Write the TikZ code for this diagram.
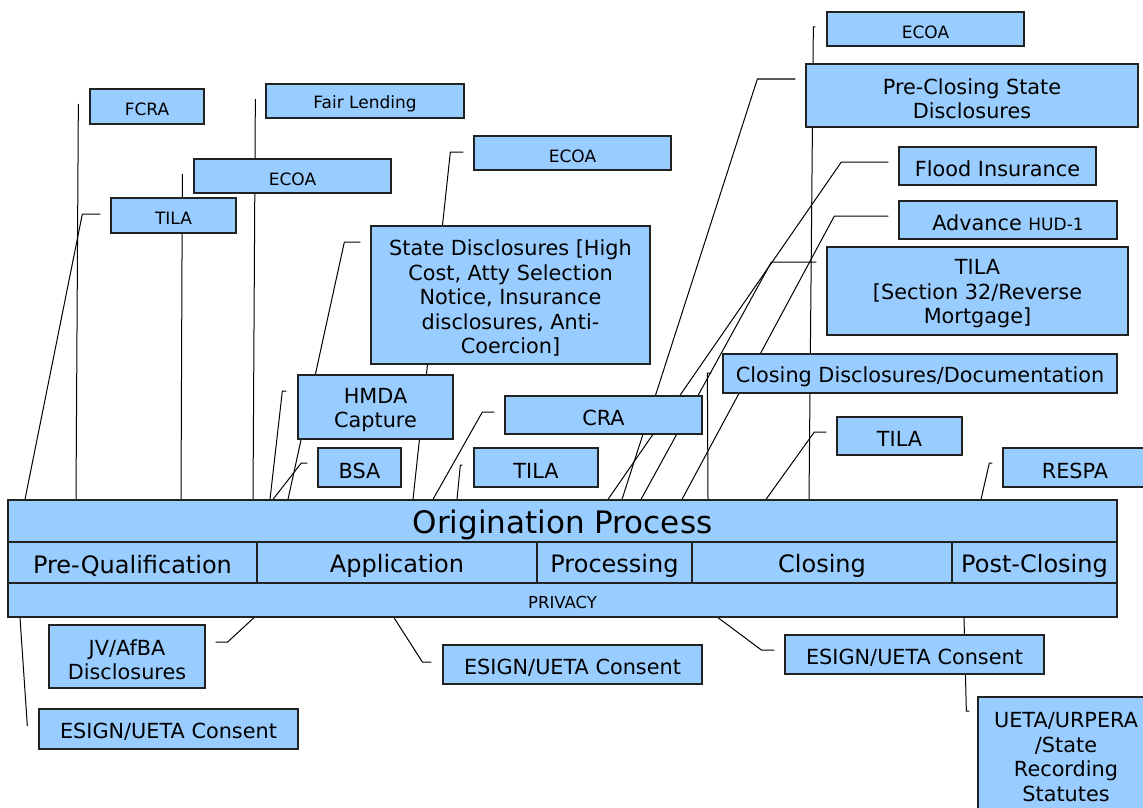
\documentclass[tikz,border=0pt]{standalone}
\usepackage{fontspec}
\setmainfont{DejaVu Sans}
\usetikzlibrary{backgrounds}
\definecolor{boxfill}{HTML}{99CCFF}
\definecolor{boxline}{HTML}{222222}
\begin{document}
\begin{tikzpicture}[x=1pt,y=-1pt,
  box/.style={draw=boxline, fill=boxfill, line width=1.3pt, inner sep=0pt},
  txt/.style={inner sep=0pt, align=center, font=\fontsize{20.8}{24.5}\selectfont},
  smalltxt/.style={txt, font=\fontsize{17}{20}\selectfont},
  phasetxt/.style={txt, font=\fontsize{24}{28}\selectfont},
  link/.style={draw=black, line width=1pt}]
\useasboundingbox (0,0) rectangle (1143,808);
\clip (0,0) rectangle (1143,808);

% ---------- label boxes ----------
\path
  (147,106.5)   node[box, minimum width=114pt, minimum height=35pt] (fcra) {}
  (365,101)     node[box, minimum width=198pt, minimum height=34pt] (fair) {}
  (292.5,176)   node[box, minimum width=197pt, minimum height=34pt] (ecoaA) {}
  (173.5,215.5) node[box, minimum width=125pt, minimum height=35pt] (tilaA) {}
  (572.5,153)   node[box, minimum width=197pt, minimum height=34pt] (ecoaB) {}
  (510.5,295)   node[box, minimum width=279pt, minimum height=138pt] (state) {}
  (375.5,407)   node[box, minimum width=155pt, minimum height=64pt] (hmda) {}
  (359.5,467.5) node[box, minimum width=83pt, minimum height=39pt] (bsa) {}
  (603.5,415)   node[box, minimum width=197pt, minimum height=38pt] (cra) {}
  (536,467.5)   node[box, minimum width=124pt, minimum height=39pt] (tilaB) {}
  (925.5,29)    node[box, minimum width=197pt, minimum height=34pt] (ecoaC) {}
  (972,95.5)    node[box, minimum width=332pt, minimum height=63pt] (preclose) {}
  (997.5,166)   node[box, minimum width=197pt, minimum height=38pt] (flood) {}
  (1008,220)    node[box, minimum width=218pt, minimum height=38pt] (advance) {}
  (977.5,291)   node[box, minimum width=301pt, minimum height=88pt] (tilaS) {}
  (920,373.5)   node[box, minimum width=394pt, minimum height=39pt] (closedoc) {}
  (899.5,436)   node[box, minimum width=125pt, minimum height=38pt] (tilaC) {}
  (1075,467.5)  node[box, minimum width=144pt, minimum height=39pt] (respa) {}
  (127,656.5)   node[box, minimum width=156pt, minimum height=63pt] (jv) {}
  (168.5,729)   node[box, minimum width=259pt, minimum height=40pt] (esignA) {}
  (572.5,664.5) node[box, minimum width=259pt, minimum height=39pt] (esignB) {}
  (914.5,654.5) node[box, minimum width=259pt, minimum height=39pt] (esignC) {}
  (1066,755)    node[box, minimum width=176pt, minimum height=116pt] (ueta) {};

% ---------- origination process bar ----------
\path
  (562.5,521)    node[box, minimum width=1109pt, minimum height=42pt] (orig) {}
  (132.5,562.5)  node[box, minimum width=249pt, minimum height=41pt] (pq) {}
  (397,562.5)    node[box, minimum width=280pt, minimum height=41pt] (app) {}
  (614.5,562.5)  node[box, minimum width=155pt, minimum height=41pt] (proc) {}
  (822,562.5)    node[box, minimum width=260pt, minimum height=41pt] (clo) {}
  (1034.5,562.5) node[box, minimum width=165pt, minimum height=41pt] (post) {}
  (562.5,600)    node[box, minimum width=1109pt, minimum height=34pt] (privacy) {};

% ---------- texts ----------
\node[smalltxt] at ([yshift=-3pt]fcra.center)  {FCRA};
\node[smalltxt] at ([yshift=-3pt]fair.center)  {Fair Lending};
\node[smalltxt] at ([yshift=-3pt]ecoaA.center) {ECOA};
\node[smalltxt] at ([yshift=-3pt]tilaA.center) {TILA};
\node[smalltxt] at ([yshift=-3pt]ecoaB.center) {ECOA};
\node[txt] at ([yshift=-3pt]state.center)
  {State Disclosures [High\\Cost, Atty Selection\\Notice, Insurance\\disclosures, Anti-\\Coercion]};
\node[txt] at ([yshift=-3pt]hmda.center)  {HMDA\\Capture};
\node[txt] at ([yshift=-3pt]bsa.center)   {BSA};
\node[txt] at ([yshift=-3pt]cra.center)   {CRA};
\node[txt] at ([yshift=-3pt]tilaB.center) {TILA};
\node[smalltxt] at ([yshift=-3pt]ecoaC.center) {ECOA};
\node[txt] at ([yshift=-3pt]preclose.center) {Pre-Closing State\\Disclosures};
\node[txt] at ([yshift=-3pt]flood.center) {Flood Insurance};
\node[txt] at ([yshift=-3pt]advance.center) {Advance {\fontsize{17}{20}\selectfont HUD-1}};
\node[txt] at ([yshift=-3pt]tilaS.center) {TILA\\{}[Section 32/Reverse\\Mortgage]};
\node[txt] at ([yshift=-3pt]closedoc.center) {Closing Disclosures/Documentation};
\node[txt] at ([yshift=-3pt]tilaC.center) {TILA};
\node[txt] at ([yshift=-3pt]respa.center) {RESPA};
\node[txt] at ([yshift=-3pt]jv.center) {JV/AfBA\\Disclosures};
\node[txt] at ([yshift=-3pt]esignA.center) {ESIGN/UETA Consent};
\node[txt] at ([yshift=-3pt]esignB.center) {ESIGN/UETA Consent};
\node[txt] at ([yshift=-3pt]esignC.center) {ESIGN/UETA Consent};
\node[txt] at ([yshift=-2pt]ueta.center) {UETA/URPERA\\/State\\Recording\\Statutes};
\node[txt, font=\fontsize{31}{36}\selectfont] at ([yshift=-4pt]orig.center) {Origination Process};
\node[phasetxt] at ([yshift=-3pt]pq.center)   {Pre-Qualification};
\node[phasetxt] at ([yshift=-3pt]app.center)  {Application};
\node[phasetxt] at ([yshift=-3pt]proc.center) {Processing};
\node[phasetxt] at ([yshift=-3pt]clo.center)  {Closing};
\node[phasetxt] at ([yshift=-3pt]post.center) {Post-Closing};
\node[txt, font=\fontsize{16.5}{20}\selectfont] at ([yshift=-2pt]privacy.center) {PRIVACY};

% ---------- connectors, kept behind the boxes ----------
\begin{scope}[on background layer]
\fill[white] (0,0) rectangle (1143,808);
% above the process bar
\draw[link] ([shift={(-11,-2.5)}]fcra.west) -- (76,0 |- orig.north);
\draw[link] ([shift={(-10,-1.5)}]tilaA.west) -- ++(-18,0) -- (25,0 |- orig.north);
\draw[link] ([shift={(-11,-2)}]ecoaA.west) -- (181,0 |- orig.north);
\draw[link] ([shift={(-10,-2)}]fair.west) -- (253,0 |- orig.north);
\draw[link] ([shift={(-10,-1)}]ecoaB.west) -- ++(-13,0) -- (413,0 |- orig.north);
\draw[link] ([shift={(-10,-53)}]state.west) -- ++(-16,0) -- (288,0 |- orig.north);
\draw[link] ([shift={(-11,-16)}]hmda.west) -- ++(-4,0) -- (270,0 |- orig.north);
\draw[link] ([shift={(-10,-4.5)}]bsa.west) -- ++(-6,0) -- (273,0 |- orig.north);
\draw[link] ([shift={(-10,-3)}]cra.west) -- ++(-12,0) -- (433,0 |- orig.north);
\draw[link] ([shift={(-11,-2.5)}]tilaB.west) -- ++(-2,0) -- (457,0 |- orig.north);
\draw[link] ([shift={(-11,-2)}]ecoaC.west) -- ++(-2,0) -- (809,0 |- orig.north);
\draw[link] ([shift={(-10,-16.5)}]preclose.west) -- ++(-38,0) -- (622,0 |- orig.north);
\draw[link] ([shift={(-10,-4)}]flood.west) -- ++(-47,0) -- (608,0 |- orig.north);
\draw[link] ([shift={(-10,-4)}]advance.west) -- ++(-54,0) -- (682,0 |- orig.north);
\draw[link] ([shift={(-10,-29)}]tilaS.west) -- ++(-45,0) -- (641,0 |- orig.north);
\draw[link] ([shift={(-11,-0.5)}]closedoc.west) -- ++(-4,0) -- (708,0 |- orig.north);
\draw[link] ([shift={(-10,-4)}]tilaC.west) -- ++(-12,0) -- (766,0 |- orig.north);
\draw[link] ([shift={(-10,-4.5)}]respa.west) -- ++(-3,0) -- (981,0 |- orig.north);
% below the process bar
\draw[link] (20,0 |- privacy.south) -- ([shift={(-11,-3)}]esignA.west);
\draw[link] (254,0 |- privacy.south) -- ([shift={(22,-14.5)}]jv.east) -- ([shift={(10,-14.5)}]jv.east);
\draw[link] (394,0 |- privacy.south) -- ([shift={(-20,-2.5)}]esignB.west) -- ([shift={(-11,-2.5)}]esignB.west);
\draw[link] (718,0 |- privacy.south) -- ([shift={(-23,-4.5)}]esignC.west) -- ([shift={(-10,-4.5)}]esignC.west);
\draw[link] (964,0 |- privacy.south) -- ([shift={(-11,-44)}]ueta.west) -- ([shift={(-8,-44)}]ueta.west);
\end{scope}
\end{tikzpicture}
\end{document}
